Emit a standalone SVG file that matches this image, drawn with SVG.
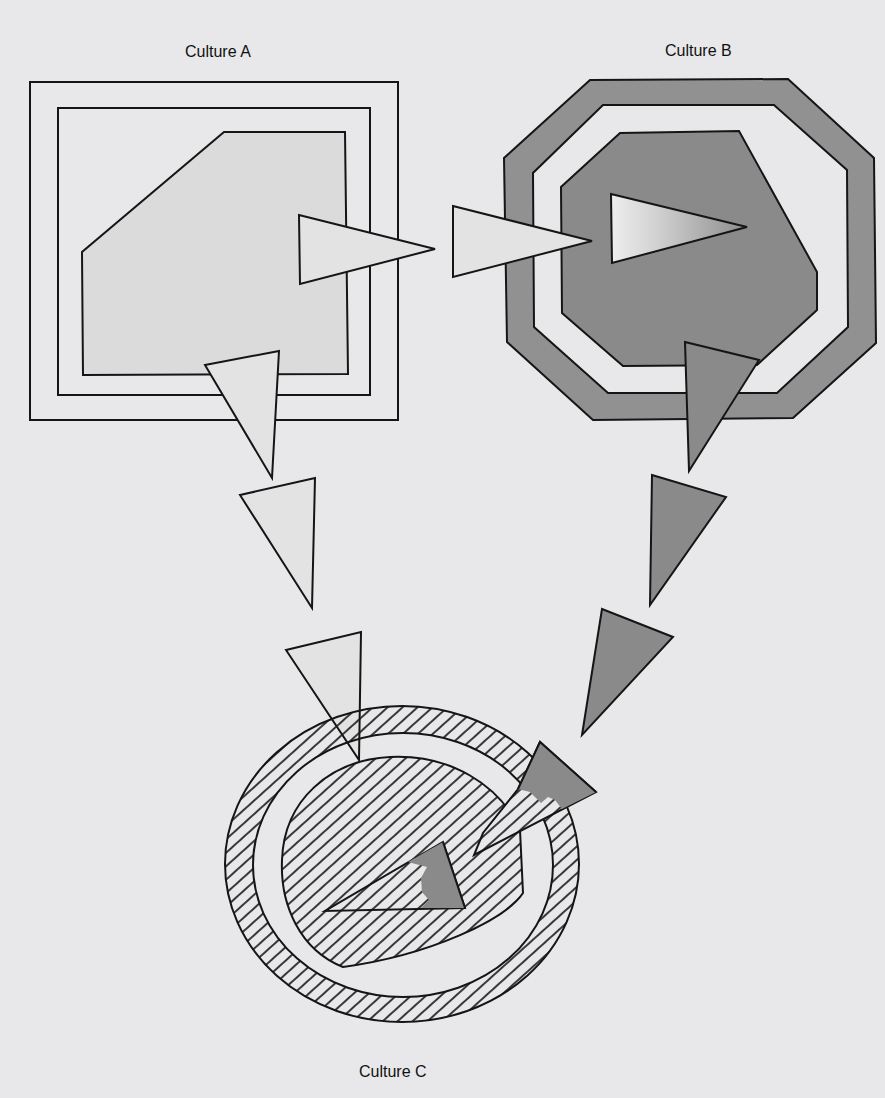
<svg xmlns="http://www.w3.org/2000/svg" width="885" height="1098" viewBox="0 0 885 1098">
<style>
.ln{stroke:#151515;stroke-width:2;stroke-linejoin:miter}
.paper{fill:#e8e8ea}
.lite{fill:#e3e3e4}
.inA{fill:#dbdbdc}
.dark{fill:#8a8a8a}
.band{fill:#919191}
.lbl{font-family:"Liberation Sans",Arial,sans-serif;font-size:16px;fill:#111}
</style>
<defs>
<pattern id="hatch" width="10" height="10" patternUnits="userSpaceOnUse" patternTransform="rotate(-42)">
<line x1="-1" y1="5" x2="11" y2="5" stroke="#181818" stroke-width="1.7"/>
</pattern>
<pattern id="hatchO" width="10" height="10" patternUnits="userSpaceOnUse" patternTransform="rotate(-42)">
<rect x="-1" y="-1" width="12" height="12" fill="#e8e8ea"/>
<line x1="-1" y1="5" x2="11" y2="5" stroke="#181818" stroke-width="1.7"/>
</pattern>
<linearGradient id="gB" x1="611" y1="0" x2="747" y2="0" gradientUnits="userSpaceOnUse">
<stop offset="0" stop-color="#eeeeee"/>
<stop offset="0.35" stop-color="#d0d0d0"/>
<stop offset="1" stop-color="#8c8c8c"/>
</linearGradient>
</defs>
<rect x="0" y="0" width="885" height="1098" class="paper"/>

<text class="lbl" x="185" y="57">Culture A</text>
<text class="lbl" x="665" y="56">Culture B</text>
<text class="lbl" x="359" y="1077">Culture C</text>

<g id="cultureA">
<rect x="30" y="82" width="368" height="338" fill="none" class="ln"/>
<rect x="58" y="108" width="312" height="287" fill="none" class="ln"/>
<polygon points="224,132 345,132 348,374 83,375 82,252" class="ln inA"/>
</g>

<g id="cultureB">
<polygon points="590,80 788,79 874,158 876,343 793,418 593,420 507,342 504,158" class="ln band"/>
<polygon points="603,105 774,105 847,170 848,327 777,393 608,393 534,327 533,173" class="ln paper"/>
<polygon points="620,133 739,131 817,272 817,310 757,365 623,366 562,313 561,187" class="ln dark"/>
</g>

<g id="cultureC">
<polygon points="286,650 361,632 359,760" class="ln lite"/>
<path d="M225,864 A177,158 0 1 0 579,864 A177,158 0 1 0 225,864 Z M253,865 A150,132 0 1 1 553,865 A150,132 0 1 1 253,865 Z" fill="url(#hatch)" fill-rule="evenodd" class="ln"/>
<path d="M343,967 C300,950 280,905 282,860 C284,800 330,760 390,757 C450,754 500,785 520,830 L523,893 C505,920 430,955 343,967 Z" fill="url(#hatch)" class="ln"/>
<polygon points="443,842 465,908 325,911" fill="none" class="ln"/>
<polygon points="443,842 465,908 421,908 429,900 422,892 421,878 427,867 408,862" class="dark" stroke="none"/>
<path d="M443,842 L465,908" fill="none" class="ln"/>
</g>

<g id="connectors">
<polygon points="299,215 435,249 300,284" class="ln lite"/>
<polygon points="453,206 592,241 453,277" class="ln lite"/>
<polygon points="611,194 747,227 612,263" class="ln" fill="url(#gB)"/>
<polygon points="205,365 279,351 272,478" class="ln lite"/>
<polygon points="240,495 315,478 312,608" class="ln lite"/>
<polygon points="685,342 759,360 689,471" class="ln dark"/>
<polygon points="652,475 726,497 650,605" class="ln dark"/>
<polygon points="602,609 673,637 582,735" class="ln dark"/>
<polygon points="540,742 596,792 474,855 483,833 518,789" class="ln" fill="url(#hatchO)"/>
<polygon points="540,742 596,792 562,809 555,800 548,797 541,803 530,792 518,789" class="dark" stroke="none"/>
<path d="M518,789 L540,742 L596,792" fill="none" class="ln"/>
</g>
</svg>
